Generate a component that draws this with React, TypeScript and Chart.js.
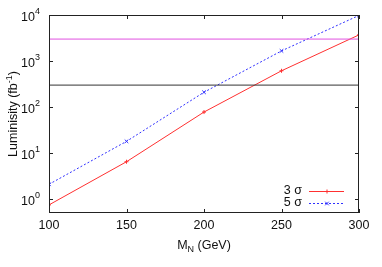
import React, { useEffect, useRef } from "react";
import { Chart, registerables } from "chart.js";

Chart.register(...registerables);

const massGeV = [100, 150, 200, 250, 300];
const lumi3sigma = [0.75, 6.5, 78, 614, 3700];
const lumi5sigma = [2.1, 18, 210, 1660, 9800];
const refLumiLow = 300;
const refLumiHigh = 3000;
const xTicks = [100, 150, 200, 250, 300];
const yDecades = [0, 1, 2, 3, 4];
const legendLabels = ["3 σ", "5 σ"];

const FONT = "12.5px 'Liberation Sans', Arial, sans-serif";
const SUPFONT = "9px 'Liberation Sans', Arial, sans-serif";
const AXIS = "#222";

const framePlugin = {
  id: "gnuplotFrame",
  afterDatasetsDraw(chart: any) {
    const ctx = chart.ctx;
    const { left, right, top, bottom } = chart.chartArea;
    const xs = chart.scales.x;
    const ys = chart.scales.y;
    ctx.save();
    ctx.strokeStyle = AXIS;
    ctx.lineWidth = 1;
    ctx.strokeRect(left + 0.5, top + 0.5, right - left - 1, bottom - top - 1);
    const tl = 4;
    ctx.beginPath();
    xTicks.forEach((v) => {
      const px = Math.round(xs.getPixelForValue(v)) + 0.5;
      ctx.moveTo(px, bottom);
      ctx.lineTo(px, bottom - tl);
      ctx.moveTo(px, top);
      ctx.lineTo(px, top + tl);
    });
    yDecades.forEach((d) => {
      const py = Math.round(ys.getPixelForValue(Math.pow(10, d))) + 0.5;
      ctx.moveTo(left, py);
      ctx.lineTo(left + tl, py);
      ctx.moveTo(right, py);
      ctx.lineTo(right - tl, py);
    });
    ctx.stroke();

    ctx.fillStyle = "#111";
    ctx.font = FONT;
    ctx.textAlign = "center";
    ctx.textBaseline = "middle";
    xTicks.forEach((v) => {
      ctx.fillText(String(v), xs.getPixelForValue(v), bottom + 13);
    });
    yDecades.forEach((d) => {
      const py = ys.getPixelForValue(Math.pow(10, d));
      ctx.font = SUPFONT;
      const sw = ctx.measureText(String(d)).width;
      ctx.textAlign = "right";
      ctx.textBaseline = "alphabetic";
      ctx.fillText(String(d), left - 9, py - 1);
      ctx.font = FONT;
      ctx.fillText("10", left - 9 - sw, py + 5.5);
    });

    const cx = (left + right) / 2;
    const by = bottom + 36;
    ctx.font = FONT;
    const wM = ctx.measureText("M").width;
    const wRest = ctx.measureText(" (GeV)").width;
    ctx.font = SUPFONT;
    const wN = ctx.measureText("N").width;
    const total = wM + wN + wRest;
    const x0 = cx - total / 2;
    ctx.textAlign = "left";
    ctx.textBaseline = "alphabetic";
    ctx.font = FONT;
    ctx.fillText("M", x0, by);
    ctx.font = SUPFONT;
    ctx.fillText("N", x0 + wM, by + 3);
    ctx.font = FONT;
    ctx.fillText(" (GeV)", x0 + wM + wN, by);

    ctx.save();
    ctx.translate(17, (top + bottom) / 2);
    ctx.rotate(-Math.PI / 2);
    ctx.font = FONT;
    const a = "Luminisity (fb";
    const wa = ctx.measureText(a).width;
    const wc = ctx.measureText(")").width;
    ctx.font = SUPFONT;
    const wb = ctx.measureText("-1").width;
    const tot = wa + wb + wc;
    const sx = -tot / 2;
    ctx.font = FONT;
    ctx.fillText(a, sx, 0);
    ctx.font = SUPFONT;
    ctx.fillText("-1", sx + wa, -5);
    ctx.font = FONT;
    ctx.fillText(")", sx + wa + wb, 0);
    ctx.restore();

    const colors = ["#ff3030", "#3030ff"];
    const ly = [bottom - 22, bottom - 10];
    legendLabels.forEach((lab, i) => {
      ctx.font = FONT;
      ctx.textAlign = "right";
      ctx.textBaseline = "middle";
      ctx.fillStyle = "#111";
      ctx.fillText(lab, right - 57, ly[i]);
      ctx.strokeStyle = colors[i];
      ctx.lineWidth = 1;
      ctx.setLineDash(i === 1 ? [2, 2] : []);
      ctx.beginPath();
      ctx.moveTo(right - 50, Math.round(ly[i]) + 0.5);
      ctx.lineTo(right - 15, Math.round(ly[i]) + 0.5);
      ctx.stroke();
      ctx.setLineDash([]);
      const mx = right - 32;
      const my = Math.round(ly[i]) + 0.5;
      ctx.beginPath();
      if (i === 0) {
        ctx.moveTo(mx - 2, my);
        ctx.lineTo(mx + 2, my);
        ctx.moveTo(mx, my - 2);
        ctx.lineTo(mx, my + 2);
      } else {
        ctx.moveTo(mx - 1.8, my - 1.8);
        ctx.lineTo(mx + 1.8, my + 1.8);
        ctx.moveTo(mx - 1.8, my + 1.8);
        ctx.lineTo(mx + 1.8, my - 1.8);
      }
      ctx.stroke();
    });
    ctx.restore();
  },
};

export default function App() {
  const ref = useRef<HTMLCanvasElement | null>(null);
  useEffect(() => {
    document.body.style.margin = "0";
    const canvas = ref.current!;
    const chart = new Chart(canvas, {
      type: "line",
      data: {
        datasets: [
          {
            label: "300",
            data: [
              { x: 100, y: refLumiLow },
              { x: 300, y: refLumiLow },
            ],
            borderColor: "#333333",
            borderWidth: 1,
            pointRadius: 0,
          },
          {
            label: "3000",
            data: [
              { x: 100, y: refLumiHigh },
              { x: 300, y: refLumiHigh },
            ],
            borderColor: "#e050e0",
            borderWidth: 1,
            pointRadius: 0,
          },
          {
            label: legendLabels[0],
            data: massGeV.map((m, i) => ({ x: m, y: lumi3sigma[i] })),
            borderColor: "#ff3030",
            backgroundColor: "#ff3030",
            borderWidth: 1,
            pointStyle: "cross",
            pointRadius: 2,
            pointBorderWidth: 1,
          },
          {
            label: legendLabels[1],
            data: massGeV.map((m, i) => ({ x: m, y: lumi5sigma[i] })),
            borderColor: "#3030ff",
            backgroundColor: "#3030ff",
            borderWidth: 1,
            borderDash: [2, 2],
            pointStyle: "crossRot",
            pointRadius: 2.5,
            pointBorderWidth: 1,
          },
        ],
      },
      options: {
        animation: false,
        responsive: false,
        layout: { padding: { left: 49, right: 23, top: 15, bottom: 54 } },
        plugins: { legend: { display: false }, tooltip: { enabled: false } },
        scales: {
          x: { type: "linear", min: 100, max: 300, display: false },
          y: { type: "logarithmic", min: 0.5, max: 10000, display: false },
        },
      },
      plugins: [framePlugin],
    });
    return () => chart.destroy();
  }, []);
  return (
    <div style={{ width: 382, height: 267 }}>
      <canvas ref={ref} width={382} height={267} />
    </div>
  );
}
